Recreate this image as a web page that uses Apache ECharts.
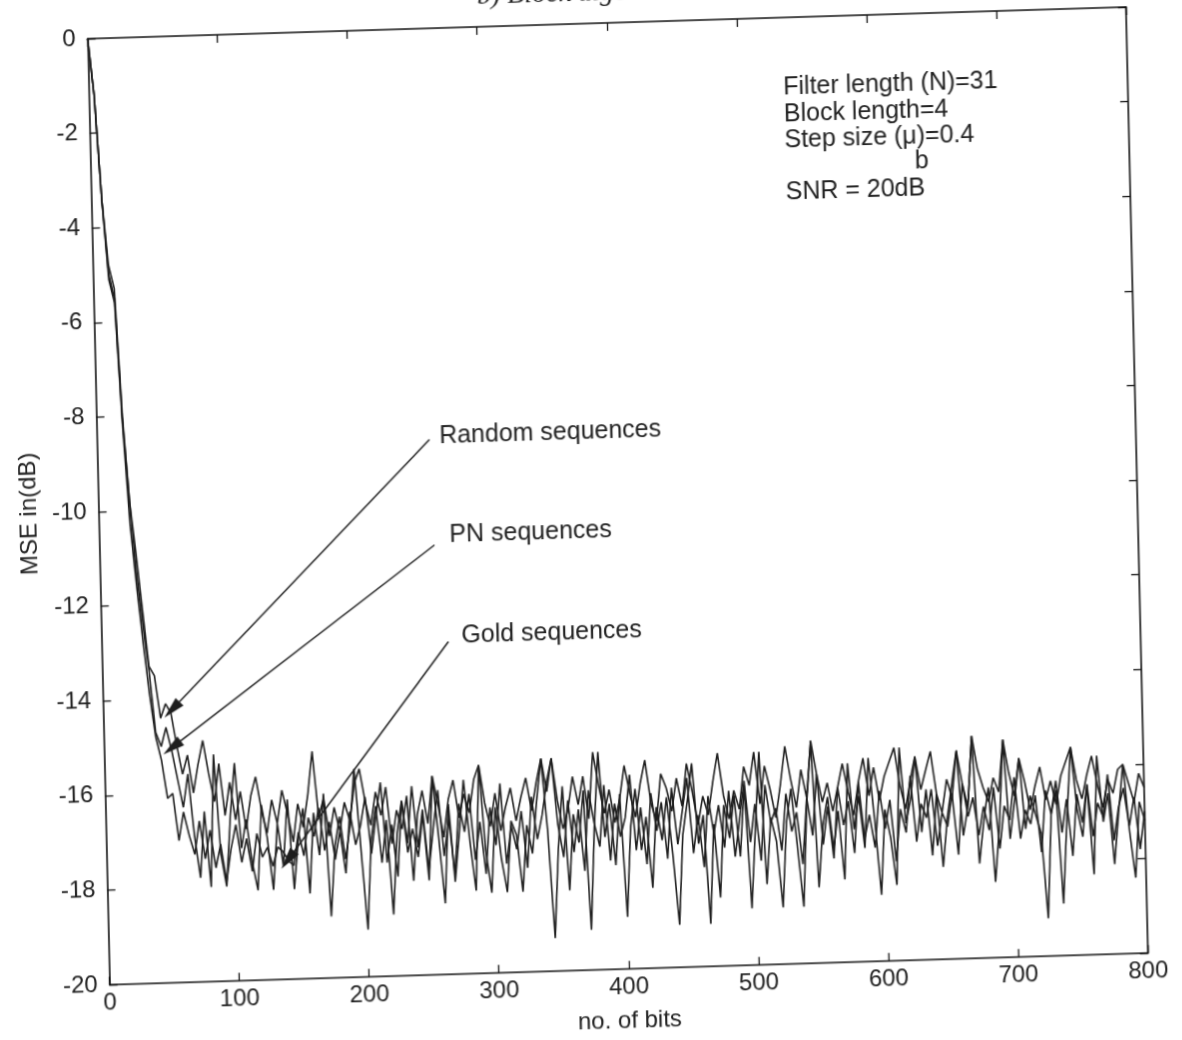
<!DOCTYPE html>
<html>
<head>
<meta charset="utf-8">
<script src="https://cdn.jsdelivr.net/npm/echarts@6/dist/echarts.min.js"></script>
<style>
    html, body { margin: 0; padding: 0; background: #fff; overflow: hidden; width: 1182px; height: 1040px; }
    /* the scanned figure is slightly skewed, so the whole chart is too */
    #chart { width: 1182px; height: 1100px; transform-origin: 0 0; transform: matrix(0.998, -0.03048, 0.02326, 1, -2.77, 1.44); }
</style>
</head>
<body>
<div id="chart"></div>
<script>
(function () {
    var FONT = "'Liberation Sans', Arial, sans-serif";
    var INK = '#1e1e1e';

    // one sample every 4 bits, 0..800
    var step = 4;

    var randomSeq = [
        0, -1.2, -3.4, -4.8, -5.3, -8.0, -9.8, -10.9, -12.1, -13.3,
        -13.5, -14.4, -14.1, -14.3, -15.0, -15.6, -15.2, -16.0, -15.4, -14.9,
        -15.6, -16.2, -15.4, -16.5, -15.8, -16.6, -16.0, -16.8, -16.1, -15.7,
        -16.4, -16.9, -16.2, -16.7, -16.0, -16.5, -17.1, -16.3, -16.8, -16.1,
        -15.2, -16.6, -16.2, -17.0, -16.4, -16.9, -16.3, -16.7, -15.9, -15.6,
        -16.3, -16.8, -16.1, -16.6, -16.0, -17.2, -16.5, -16.9, -16.2, -18.0,
        -16.6, -16.1, -16.8, -15.8, -16.4, -17.1, -16.3, -15.9, -16.7, -16.2,
        -16.6, -15.9, -15.6, -16.4, -16.9, -16.2, -17.0, -16.5, -16.1, -16.8,
        -16.3, -15.9, -16.6, -16.0, -15.5, -16.2, -15.5, -16.4, -17.0, -16.6,
        -15.9, -16.5, -15.9, -16.8, -15.4, -16.1, -16.7, -16.2, -16.9, -16.4,
        -15.7, -16.3, -16.8, -16.1, -15.6, -16.5, -16.9, -15.9, -16.2, -16.7,
        -16.0, -16.6, -15.7, -16.3, -17.0, -16.4, -16.8, -16.1, -15.5, -16.4,
        -16.9, -16.3, -16.7, -15.8, -16.2, -15.5, -16.6, -15.8, -16.3, -16.9,
        -16.2, -15.4, -16.1, -16.7, -15.9, -16.5, -15.3, -16.0, -16.6, -16.2,
        -16.8, -16.3, -15.8, -16.4, -16.9, -16.2, -15.7, -16.5, -15.9, -16.6,
        -16.1, -15.8, -15.5, -16.3, -16.8, -16.2, -15.7, -16.4, -16.0, -15.6,
        -16.5, -16.9, -16.2, -16.6, -15.6, -16.3, -16.8, -15.3, -16.0, -16.4,
        -16.7, -16.2, -16.5, -15.4, -16.1, -16.6, -15.8, -16.3, -16.9, -16.4,
        -16.0, -16.7, -16.3, -16.8, -16.2, -15.9, -15.6, -16.3, -16.7, -16.2,
        -15.8, -16.4, -16.9, -16.3, -16.6, -16.1, -16.0, -16.4, -16.8, -16.2,
        -16.5
    ];

    var pnSeq = [
        0, -1.2, -3.4, -5.0, -5.5, -8.1, -9.8, -11.3, -12.4, -13.4,
        -14.7, -15.0, -14.6, -15.1, -15.7, -16.3, -15.6, -16.9, -17.8, -16.4,
        -18.0, -15.2, -17.3, -18.0, -16.5, -15.4, -17.2, -16.6, -17.5, -18.1,
        -16.3, -17.0, -18.1, -16.7, -17.6, -16.2, -18.1, -17.0, -16.4, -18.2,
        -16.5, -17.4, -16.1, -18.7, -17.2, -16.6, -17.5, -16.8, -15.6, -17.3,
        -19.0, -17.1, -16.4, -17.6, -16.7, -18.7, -17.0, -16.3, -17.4, -16.9,
        -17.5, -16.6, -18.0, -15.8, -17.1, -18.5, -16.4, -18.05, -17.0, -15.9,
        -17.2, -18.25, -15.6, -17.4, -18.3, -16.5, -17.6, -18.3, -16.8, -17.1,
        -18.3, -16.9, -17.5, -16.4, -15.5, -17.0, -19.3, -17.4, -16.1, -18.3,
        -16.7, -17.3, -16.2, -19.15, -17.0, -15.4, -17.2, -16.5, -17.8, -16.3,
        -18.9, -17.0, -16.2, -17.5, -16.8, -18.3, -16.6, -17.3, -16.4, -17.6,
        -19.1, -17.2, -16.5, -15.7, -17.4, -16.8, -19.1, -17.0, -18.55, -16.6,
        -17.3, -16.4, -17.7, -16.2, -18.8, -17.1, -15.5, -18.3, -16.9, -17.4,
        -18.8, -17.0, -16.3, -17.5, -18.8, -16.6, -15.3, -18.4, -17.1, -16.5,
        -17.6, -16.8, -18.25, -15.8, -17.2, -16.5, -17.6, -15.7, -17.0, -18.6,
        -16.8, -17.4, -18.4, -15.5, -17.1, -16.6, -15.7, -17.3, -16.4, -17.8,
        -16.5, -18.05, -17.0, -16.3, -15.6, -17.4, -16.8, -15.3, -18.0, -17.1,
        -16.4, -18.4, -17.2, -15.4, -17.5, -16.7, -15.8, -17.3, -16.6, -17.0,
        -17.4, -19.2, -17.0, -16.5, -18.9, -17.1, -15.6, -16.9, -17.5, -16.4,
        -18.3, -15.8, -17.2, -16.6, -18.1, -17.0, -16.0, -17.4, -18.4, -16.8,
        -17.2
    ];

    var goldSeq = [
        0, -1.2, -3.4, -5.1, -5.6, -8.2, -10.3, -11.6, -12.8, -13.9,
        -14.8, -15.3, -16.1, -16.0, -17.0, -16.4, -16.9, -17.3, -16.6, -17.4,
        -16.8, -17.6, -17.1, -17.9, -17.2, -16.7, -17.5, -17.0, -17.7, -16.9,
        -17.4, -17.2, -17.6, -17.2, -17.3, -17.5, -17.6, -16.9, -17.4, -16.6,
        -17.0, -16.4, -17.3, -16.7, -17.5, -16.9, -17.8, -16.5, -17.2, -16.8,
        -16.2, -17.4, -16.6, -15.9, -17.6, -16.8, -17.9, -16.3, -17.2, -16.0,
        -17.3, -16.5, -17.8, -16.9, -16.1, -17.5, -16.7, -17.9, -16.4, -17.0,
        -16.2, -17.6, -16.8, -17.9, -16.5, -17.3, -16.0, -17.7, -16.9, -17.4,
        -16.6, -17.8, -16.3, -17.2, -16.7, -16.0, -15.5, -16.9, -17.6, -16.4,
        -17.5, -16.6, -17.9, -16.2, -16.9, -17.4, -16.1, -17.7, -16.5, -17.2,
        -16.8, -15.9, -17.5, -16.6, -17.8, -16.3, -17.1, -16.5, -17.7, -16.2,
        -17.4, -16.7, -16.0, -17.6, -16.8, -17.9, -16.4, -17.2, -16.6, -17.5,
        -16.3, -17.7, -16.9, -16.1, -17.4, -16.6, -17.8, -16.2, -17.0, -16.7,
        -17.6, -16.4, -17.2, -16.8, -17.9, -16.5, -17.3, -16.0, -17.5, -16.7,
        -17.8, -16.3, -17.1, -16.6, -17.7, -16.2, -17.4, -16.9, -17.6, -16.4,
        -17.2, -16.6, -17.9, -16.8, -17.3, -16.1, -17.5, -16.7, -17.0, -16.4,
        -17.6, -16.9, -17.2, -16.5, -17.8, -16.3, -17.0, -16.6, -17.4, -16.8,
        -17.3, -16.4, -17.7, -16.8, -17.1, -16.2, -17.5, -16.9, -17.2, -16.6,
        -17.8, -16.5, -17.0, -16.3, -17.4, -16.7, -17.9, -16.6, -17.2, -16.4,
        -17.5, -16.8, -17.1, -16.2, -17.6, -16.9, -16.5, -17.3, -16.7, -17.8,
        -17.0
    ];

    var yTicks = [0, -2, -4, -6, -8, -10, -12, -14, -16, -18, -20];
    var xTicks = [0, 100, 200, 300, 400, 500, 600, 700, 800];

    // label anchor, arrow tail, arrow tip (data coordinates)
    var notes = [
        { text: 'Random sequences', at: [263.6, -8.62], from: [256, -8.69], to: [52.9, -14.23] },
        { text: 'PN sequences', at: [269.7, -10.73], from: [258, -10.92], to: [52.3, -15.03] },
        { text: 'Gold sequences', at: [277.2, -12.85], from: [267, -12.97], to: [139.5, -17.48] }
    ];

    var infoLines = ['Filter length (N)=31', 'Block length=4', 'Step size (\u03bc)=0.4', 'SNR = 20dB'];

    function pairs(arr) {
        return arr.map(function (v, i) { return [i * step, v]; });
    }

    var lineBase = {
        type: 'line',
        symbol: 'none',
        silent: true,
        lineStyle: { color: INK, width: 1.6 },
        animation: false
    };

    var chart = echarts.init(document.getElementById('chart'), null, { renderer: 'canvas' });

    var tickStyle = { show: true, inside: true, length: 8, lineStyle: { color: '#111', width: 1.3 } };
    var lineStyleAxis = { show: true, onZero: false, lineStyle: { color: '#111', width: 1.6 } };
    var arrowHead = 'path://M5 0 L10 20 L0 20 Z';

    chart.setOption({
        backgroundColor: '#fff',
        animation: false,
        grid: { left: 80, top: 40, width: 1050, height: 946 },
        xAxis: [{
            type: 'value', min: 0, max: 800, interval: 100, position: 'bottom',
            name: 'no. of bits', nameLocation: 'middle', nameGap: 40,
            nameTextStyle: { fontFamily: FONT, fontSize: 24, color: '#222' },
            axisLine: lineStyleAxis, axisTick: tickStyle, splitLine: { show: false },
            axisLabel: {
                fontFamily: FONT, fontSize: 24, color: '#222', margin: 6,
                formatter: function (v) { return xTicks.indexOf(v) >= 0 ? String(v) : ''; }
            }
        }, {
            type: 'value', min: 0, max: 800, interval: 100, position: 'top',
            axisLine: lineStyleAxis, axisTick: tickStyle, axisLabel: { show: false }, splitLine: { show: false }
        }],
        yAxis: [{
            type: 'value', min: -20, max: 0, interval: 2, position: 'left',
            name: 'MSE in(dB)', nameLocation: 'middle', nameGap: 54,
            nameTextStyle: { fontFamily: FONT, fontSize: 24, color: '#222' },
            axisLine: lineStyleAxis, axisTick: tickStyle, splitLine: { show: false },
            axisLabel: {
                fontFamily: FONT, fontSize: 24, color: '#222', margin: 12,
                formatter: function (v) { return yTicks.indexOf(v) >= 0 ? String(v) : ''; }
            }
        }, {
            type: 'value', min: -20, max: 0, interval: 2, position: 'right',
            axisLine: lineStyleAxis, axisTick: tickStyle, axisLabel: { show: false }, splitLine: { show: false }
        }],
        series: [
            echarts.util.extend({
                name: 'Random sequences', data: pairs(randomSeq),
                markLine: {
                    silent: true, animation: false,
                    symbol: ['none', arrowHead], symbolSize: [0, 22],
                    lineStyle: { color: INK, width: 1.5, type: 'solid' },
                    label: { show: false },
                    emphasis: { disabled: true },
                    data: notes.map(function (n) {
                        return [{ coord: n.from, symbol: 'none' }, { coord: n.to, symbol: arrowHead, symbolSize: [11, 22] }];
                    })
                }
            }, lineBase),
            echarts.util.extend({ name: 'PN sequences', data: pairs(pnSeq) }, lineBase),
            echarts.util.extend({ name: 'Gold sequences', data: pairs(goldSeq) }, lineBase)
        ]
    });

    var graphics = notes.map(function (n) {
        var p = chart.convertToPixel({ gridIndex: 0 }, n.at);
        return {
            type: 'text', x: p[0], y: p[1], silent: true,
            style: { text: n.text, fontFamily: FONT, fontSize: 25, fill: '#222', align: 'left', verticalAlign: 'middle' }
        };
    });

    var infoY = [110, 137, 163, 215];
    infoLines.forEach(function (t, i) {
        graphics.push({
            type: 'text', x: 785, y: infoY[i], silent: true,
            style: { text: t, fontFamily: FONT, fontSize: 25, fill: '#222', align: 'left', verticalAlign: 'middle' }
        });
    });
    graphics.push({
        type: 'text', x: 922, y: 188, silent: true,
        style: { text: 'b', fontFamily: FONT, fontSize: 25, fill: '#222', align: 'center', verticalAlign: 'middle' }
    });
    graphics.push({
        type: 'text', x: 556, y: 24, silent: true,
        style: { text: 'b) Block algo', fontFamily: "'Liberation Serif', 'Times New Roman', serif", fontStyle: 'italic', fontSize: 28, fill: '#222', align: 'center', verticalAlign: 'bottom' }
    });

    chart.setOption({ graphic: graphics });
})();
</script>
</body>
</html>
